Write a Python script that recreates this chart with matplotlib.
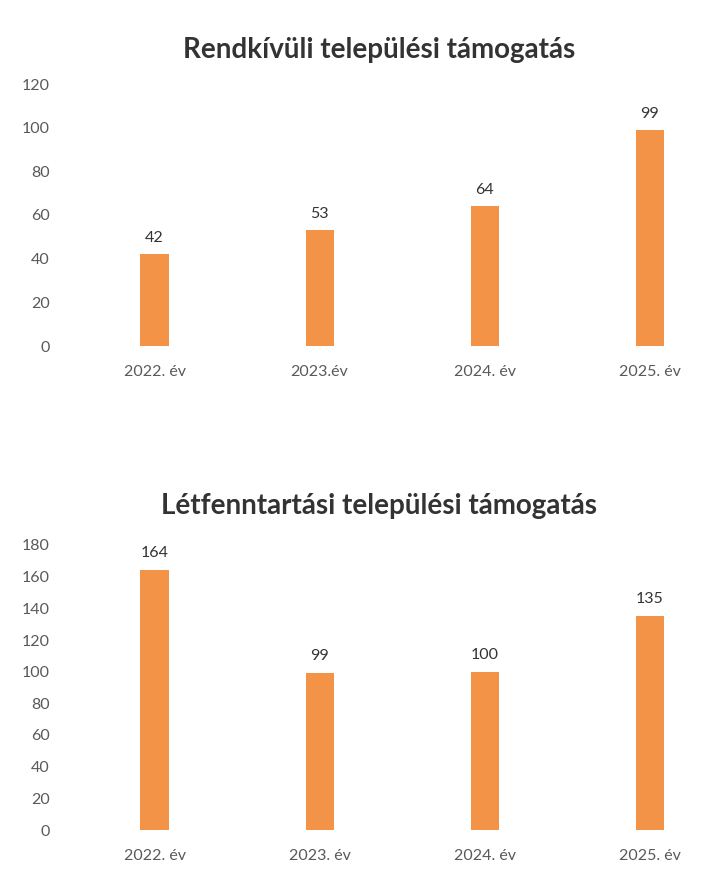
import matplotlib.pyplot as plt
import numpy as np

plt.rcParams['font.family'] = ['Lato', 'DejaVu Sans']

# top chart
top_title = 'Rendkívüli települési támogatás'
top_labels = ['2022. év', '2023.év', '2024. év', '2025. év']
top_values = [42, 53, 64, 99]

# bottom chart
bottom_title = 'Létfenntartási települési támogatás'
bottom_labels = ['2022. év', '2023. év', '2024. év', '2025. év']
bottom_values = [164, 99, 100, 135]

bar_color = '#F39348'
tick_color = '#595959'


def draw(ax, title, labels, values, ymax, step, pad):
    x = np.arange(len(values))
    ax.bar(x, values, width=0.17, color=bar_color)
    for xi, v in zip(x, values):
        ax.text(xi, v + ymax * 0.035, str(v), ha='center', va='bottom',
                fontsize=11.5, color='#333333')
    ax.set_xlim(-0.5, 3.42)
    ax.set_ylim(0, ymax)
    ax.set_yticks(np.arange(0, ymax + 1, step))
    ax.set_xticks(x)
    ax.set_xticklabels(labels)
    ax.tick_params(length=0, labelsize=11.5, labelcolor=tick_color)
    ax.tick_params(axis='x', pad=14)
    ax.tick_params(axis='y', pad=16)
    for s in ax.spines.values():
        s.set_visible(False)
    ax.set_title(title, fontsize=20, fontweight='bold', color='#333333', pad=pad,
                 x=0.475)


fig = plt.figure(figsize=(7.19, 8.75), dpi=100)
ax1 = fig.add_axes([72 / 719, 1 - 346 / 875, 647 / 719, 262 / 875])
draw(ax1, top_title, top_labels, top_values, 120, 20, 19)
ax2 = fig.add_axes([72 / 719, 1 - 830 / 875, 647 / 719, 285 / 875])
draw(ax2, bottom_title, bottom_labels, bottom_values, 180, 20, 22)

fig.savefig('out.png', dpi=100, facecolor='white')
